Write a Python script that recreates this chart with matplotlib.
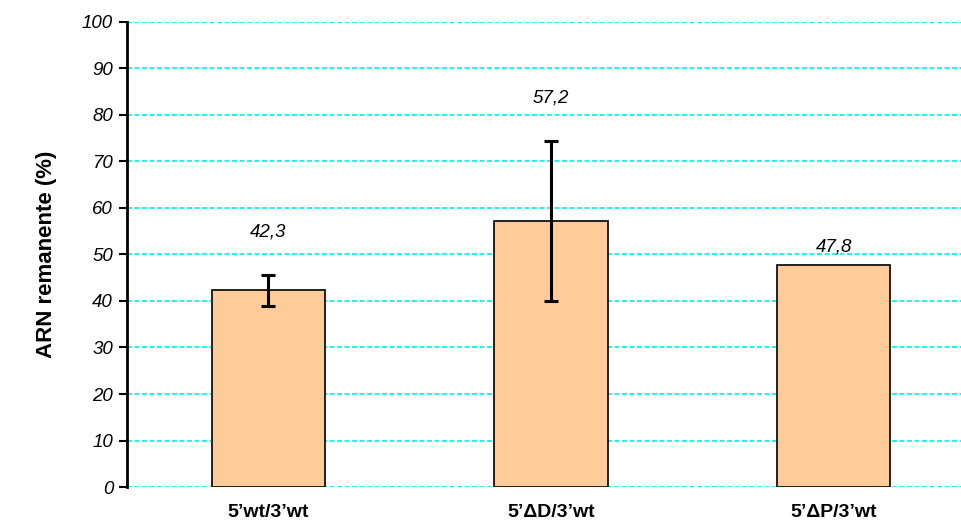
import matplotlib
matplotlib.use("Agg")
import matplotlib.pyplot as plt

plt.rcParams['font.family'] = ['Liberation Sans', 'DejaVu Sans']

categories = ["5\u2019wt/3\u2019wt", "5\u2019\u0394D/3\u2019wt", "5\u2019\u0394P/3\u2019wt"]
values = [42.3, 57.2, 47.8]
errors = [3.3, 17.3, 0.0]
value_labels = ["42,3", "57,2", "47,8"]
label_heights = [54.8, 83.6, 51.6]
y_ticks = [0, 10, 20, 30, 40, 50, 60, 70, 80, 90, 100]

fig = plt.figure(figsize=(9.62, 5.22), dpi=100)
ax = fig.add_axes([0.132, 0.067, 0.8815, 0.891])

x = list(range(len(categories)))
ax.bar(x, values, width=0.4, color="#FFCC99", edgecolor="black", linewidth=1.2, zorder=3)
for xi, v, e in zip(x, values, errors):
    if e > 0:
        ax.errorbar(xi, v, yerr=e, fmt="none", ecolor="black", elinewidth=2.2,
                    capsize=5, capthick=2.2, zorder=4)
for xi, lab, h in zip(x, value_labels, label_heights):
    ax.text(xi, h, lab, ha="center", va="center", fontsize=13.5, style="italic")

ax.set_xlim(-0.5, 2.5)
ax.set_ylim(0, 100)
ax.set_yticks(y_ticks)
ax.set_yticklabels([str(t) for t in y_ticks], fontsize=13.5, style="italic")
ax.set_xticks(x)
ax.set_xticklabels(categories, fontsize=14, fontweight="bold")
ax.tick_params(axis="x", length=0, pad=12)
ax.tick_params(axis="y", direction="out", length=6, width=1.5, pad=4)

ax.yaxis.grid(True, color="#00EEEE", linestyle=(0, (3, 1.5)), linewidth=1.2, zorder=0)
ax.set_axisbelow(True)
for side in ("top", "right", "bottom"):
    ax.spines[side].set_visible(False)
ax.spines["left"].set_linewidth(2)

ax.set_ylabel("ARN remanente (%)", fontsize=16, fontweight="bold", labelpad=18)

fig.savefig("out.png", dpi=100)
